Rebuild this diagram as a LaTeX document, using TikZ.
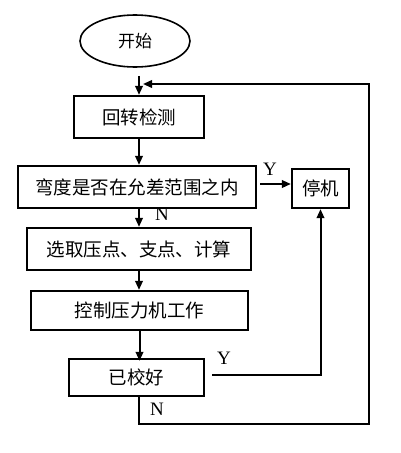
\documentclass[tikz,border=0pt]{standalone}
\usepackage{fontspec}
\setmainfont{Liberation Serif}
\newfontfamily\cjk{Noto Sans CJK SC}
\usetikzlibrary{shapes.geometric,arrows.meta}

\tikzset{
  box/.style={draw, line width=2.2pt, inner sep=0pt,
    font=\cjk\fontsize{18.5}{18.5}\selectfont},
  flow/.style={line width=2pt, -{Triangle[length=9pt,width=7.5pt]}},
  yn/.style={font=\fontsize{19}{19}\selectfont, inner sep=0pt}
}

\begin{document}
\begin{tikzpicture}[x=1pt,y=-1pt]
\useasboundingbox (0,0) rectangle (400,453);

% boxes
\node[box, ellipse, line width=1.6pt, minimum width=110pt, minimum height=52pt,
  font=\cjk\fontsize{17}{17}\selectfont] (start) at (135,41) {开始};
\node[box, minimum width=130pt, minimum height=42pt] (turn) at (139,117) {回转检测};
\node[box, minimum width=238pt, minimum height=42pt] (bend) at (137,187) {弯度是否在允差范围之内};
\node[box, minimum width=57pt, minimum height=39pt] (stop) at (320.5,188.5) {停机};
\node[box, minimum width=224pt, minimum height=42pt] (pick) at (139,249) {选取压点、支点、计算};
\node[box, minimum width=217pt, minimum height=39pt] (press) at (139.5,310.5) {控制压力机工作};
\node[box, minimum width=135pt, minimum height=37pt] (done) at (136.5,377.5) {已校好};

% loop corners
\coordinate (lbot) at (369,424);
\coordinate (ltop) at (369,84);
\coordinate (lin) at (143,84);

% connectors
\draw[flow] ([yshift=-8pt]turn.north |- start.south) -- (turn.north);
\draw[flow] (turn.south) -- (turn.south |- bend.north);
\draw[flow] ([xshift=3pt,yshift=3pt]bend.east) -- ([yshift=3pt]bend.east -| stop.west);
\draw[flow] (bend.south -| pick.north) -- (pick.north);
\draw[flow] (pick.south) -- (pick.south |- press.north);
\draw[flow] (press.south) -- ([yshift=-3pt]press.south |- done.north);
\draw[flow] ([xshift=7pt,yshift=3pt]done.east) -| (stop.south);
\draw[flow] ([xshift=2.5pt]done.south) |- (lbot) -- (ltop) -- (lin);

% labels
\node[yn] (y1) at (270,169) {Y};
\node[yn] (n1) at (162,214) {N};
\node[yn] (y2) at (224,358) {Y};
\node[yn] (n2) at (157,409) {N};
\end{tikzpicture}
\end{document}
